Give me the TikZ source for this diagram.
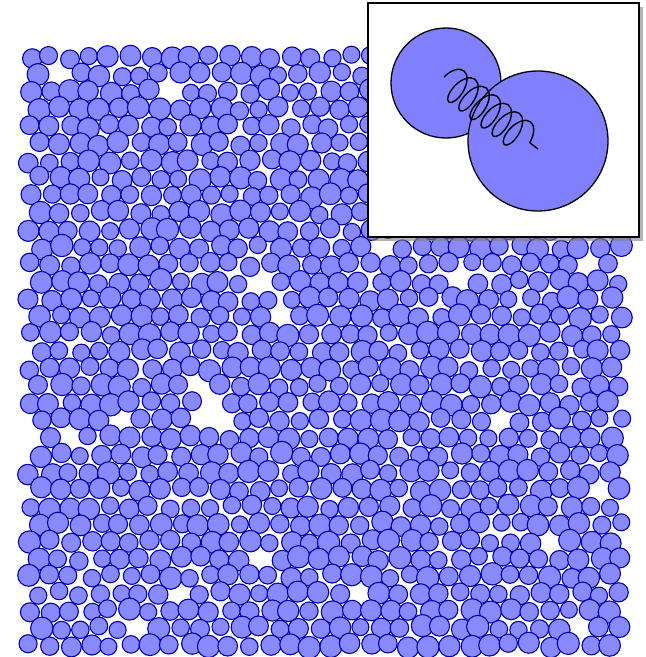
\documentclass[tikz,border=0pt]{standalone}
\usetikzlibrary{decorations.pathmorphing,shadows}
\definecolor{GrainBlue}{RGB}{138,138,255}
\definecolor{GrainEdge}{RGB}{0,0,175}
\definecolor{InsetBlue}{RGB}{128,128,255}
\tikzset{
	grain/.style={draw=GrainEdge,fill=GrainBlue,line width=1.1pt},
	inset/.style={draw=black,fill=white,line width=1.2pt,inner sep=0pt,
		minimum width=271,minimum height=234,
		drop shadow={shadow xshift=4pt,shadow yshift=-4pt,opacity=0.6}},
	bead/.style={circle,draw=black,fill=InsetBlue,line width=1.3pt,inner sep=0pt},
	spring/.style={decorate,decoration={coil,amplitude=17pt,segment length=14pt},line width=1.4pt},
}
\begin{document}
\begin{tikzpicture}[x=1pt,y=-1pt]
	\useasboundingbox (0,0) rectangle (646,657);
	\pgfmathsetseed{4217}
	\foreach \row in {0,...,34}{
		\foreach \col in {0,...,29}{
			\pgfmathsetmacro{\gx}{30+20*\col+10*mod(\row,2)+2.5*rand}
			\pgfmathsetmacro{\gy}{57+17.3*\row+2.5*rand}
			\pgfmathsetmacro{\gr}{9.8+1.4*rand}
			\pgfmathsetmacro{\gskip}{rnd}
			\ifdim\gskip pt>0.035pt
				\draw[grain] (\gx,\gy) circle[radius=\gr];
			\fi
		}
	}
	% zoomed pair of grains
	\node[inset] (box) at (503.5,120) {};
	\node[bead,minimum size=110] (small) at (446,83) {};
	\node[bead,minimum size=140] (big) at (538,141) {};
	\coordinate (s0) at (444,77); \coordinate (s1) at (538,149);
	\draw[spring] (s0) -- (s1);
\end{tikzpicture}
\end{document}
